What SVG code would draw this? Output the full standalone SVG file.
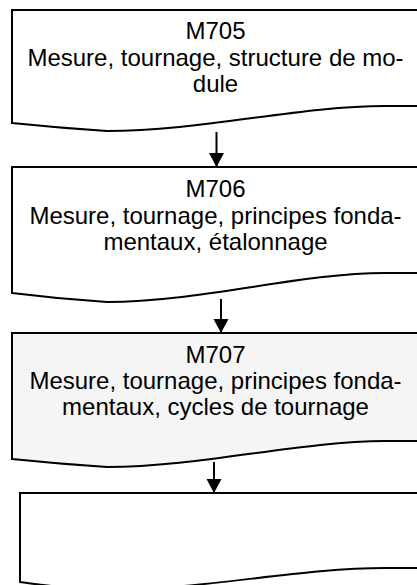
<svg xmlns="http://www.w3.org/2000/svg" width="417" height="585" viewBox="0 0 417 585">
<style>
.doc{fill:#ffffff;stroke:#000000;stroke-width:2;stroke-linejoin:miter}
.hl{fill:#f5f5f5}
.t{font-family:"Liberation Sans",Arial,sans-serif;font-size:24px;fill:#000000;text-anchor:middle}
.c{stroke:#000000;stroke-width:2;fill:none}
</style>
<defs>
<marker id="ah" markerUnits="userSpaceOnUse" markerWidth="16" markerHeight="16" refX="14" refY="7.5" orient="auto">
<path d="M0,0 L14,7.5 L0,15 Z" fill="#000000"/>
</marker>
</defs>
<g id="node-m705">
<path class="doc" d="M12,10 H430 V106 L385,106 C300,106 200,131 107,131 Q60,128 12,123 Z"/>
<text class="t" x="215.5" y="39">M705</text>
<text class="t" x="215.5" y="66">Mesure, tournage, structure de mo-</text>
<text class="t" x="215.5" y="92">dule</text>
</g>
<g id="node-m706">
<path class="doc" d="M12,167 H430 V273 L385,273 C300,273 200,302 107,302 Q60,299 12,293 Z"/>
<text class="t" x="215.5" y="197">M706</text>
<text class="t" x="215.5" y="224">Mesure, tournage, principes fonda-</text>
<text class="t" x="215.5" y="250">mentaux, étalonnage</text>
</g>
<g id="node-m707">
<path class="doc hl" d="M12,333 H430 V441 L385,441 C300,441 200,467 107,467 Q60,464 12,459 Z"/>
<text class="t" x="215.5" y="363">M707</text>
<text class="t" x="215.5" y="389">Mesure, tournage, principes fonda-</text>
<text class="t" x="215.5" y="415">mentaux, cycles de tournage</text>
</g>
<g id="node-empty">
<path class="doc" d="M20,493 H430 V568 L385,568 C300,568 200,590 107,590 Q60,588 20,582 Z"/>
</g>
<g id="connectors">
<line class="c" x1="216.5" y1="132" x2="216.5" y2="167" marker-end="url(#ah)"/>
<line class="c" x1="221" y1="299" x2="221" y2="333" marker-end="url(#ah)"/>
<line class="c" x1="214" y1="462" x2="214" y2="493" marker-end="url(#ah)"/>
</g>
</svg>
